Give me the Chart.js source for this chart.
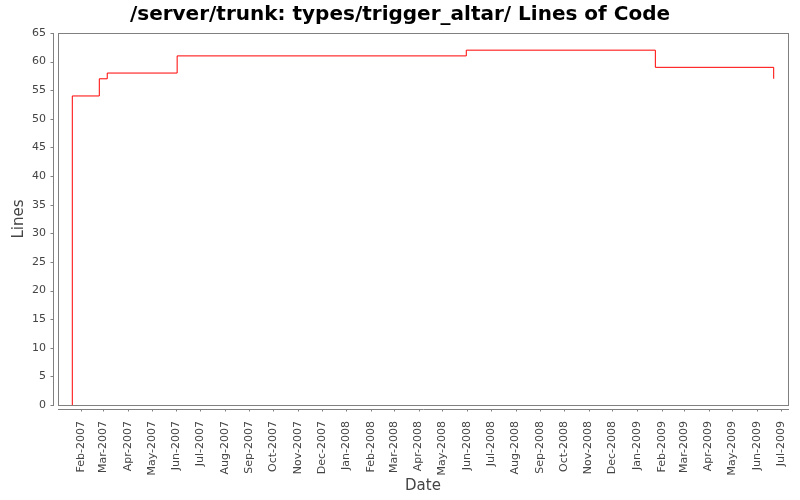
<!DOCTYPE html>
<html>
<head>
<meta charset="utf-8">
<script src="https://cdn.jsdelivr.net/npm/chart.js@4/dist/chart.umd.min.js"></script>
<style>
  html, body { margin: 0; padding: 0; background: #fff; }
  #wrap { width: 800px; height: 500px; }
</style>
</head>
<body>
<div id="wrap"><canvas id="locChart" width="800" height="500"></canvas></div>
<script>
/* data */
const dates = ["2007-01-21", "2007-01-21", "2007-02-24", "2007-03-06", "2007-06-02",
               "2008-05-31", "2009-01-24", "2009-06-22"];
const lines = [0, 54, 57, 58, 61, 62, 59, 57];
const monthLabels = ["Feb-2007", "Mar-2007", "Apr-2007", "May-2007", "Jun-2007", "Jul-2007",
  "Aug-2007", "Sep-2007", "Oct-2007", "Nov-2007", "Dec-2007", "Jan-2008", "Feb-2008",
  "Mar-2008", "Apr-2008", "May-2008", "Jun-2008", "Jul-2008", "Aug-2008", "Sep-2008",
  "Oct-2008", "Nov-2008", "Dec-2008", "Jan-2009", "Feb-2009", "Mar-2009", "Apr-2009",
  "May-2009", "Jun-2009", "Jul-2009"];
const yTicks = [0, 5, 10, 15, 20, 25, 30, 35, 40, 45, 50, 55, 60, 65];

const MONTHS = ["Jan","Feb","Mar","Apr","May","Jun","Jul","Aug","Sep","Oct","Nov","Dec"];
function labelToMs(lbl) {
  const [m, y] = lbl.split("-");
  return Date.UTC(+y, MONTHS.indexOf(m), 1);
}
const monthTicks = monthLabels.map(labelToMs);
const points = dates.map((d, i) => ({ x: Date.parse(d), y: lines[i] }));

const GREY = "#808080";
const TEXT = "#444444";
const FONT = "'DejaVu Sans', sans-serif";

/* JFreeChart-like frame with offset axis lines */
const framePlugin = {
  id: "frame",
  afterDraw(chart) {
    const { ctx, chartArea: a, scales } = chart;
    ctx.save();
    ctx.strokeStyle = GREY;
    ctx.lineWidth = 1;
    ctx.strokeRect(a.left + 0.5, a.top + 0.5, a.right - a.left, a.bottom - a.top);

    // y axis line + ticks
    const ax = Math.round(a.left - 5) + 0.5;
    ctx.beginPath();
    ctx.moveTo(ax, a.top);
    ctx.lineTo(ax, a.bottom + 1);
    scales.y.ticks.forEach(t => {
      const py = Math.round(scales.y.getPixelForValue(t.value)) + 0.5;
      ctx.moveTo(ax - 3, py);
      ctx.lineTo(ax, py);
    });
    // x axis line + ticks
    const ay = Math.round(a.bottom + 4) + 0.5;
    ctx.moveTo(a.left, ay);
    ctx.lineTo(a.right + 1, ay);
    scales.x.ticks.forEach(t => {
      const px = Math.round(scales.x.getPixelForValue(t.value)) + 0.5;
      ctx.moveTo(px, ay);
      ctx.lineTo(px, ay + 2);
    });
    ctx.stroke();
    ctx.restore();
  }
};

new Chart(document.getElementById("locChart"), {
  type: "line",
  data: {
    datasets: [{
      data: points,
      stepped: "before",
      borderColor: "#ff0000",
      borderWidth: 1,
      pointRadius: 0,
      fill: false
    }]
  },
  options: {
    responsive: false,
    animation: false,
    layout: { padding: 0 },
    plugins: {
      legend: { display: false },
      tooltip: { enabled: false },
      title: {
        display: true,
        text: "/server/trunk: types/trigger_altar/ Lines of Code",
        color: "#000",
        font: { family: FONT, size: 20, weight: "bold", lineHeight: 1.2 },
        padding: { top: 3, bottom: 6 }
      }
    },
    scales: {
      x: {
        type: "linear",
        min: Date.UTC(2007, 0, 3),
        max: Date.UTC(2009, 6, 10),
        afterBuildTicks: s => { s.ticks = monthTicks.map(v => ({ value: v })); },
        afterFit: s => { s.height = 95; s.paddingLeft = 0; s.paddingRight = 12; },
        grid: { display: false, drawTicks: false },
        border: { display: false },
        ticks: {
          autoSkip: false,
          minRotation: 90,
          maxRotation: 90,
          padding: 16,
          color: TEXT,
          font: { family: FONT, size: 11 },
          callback: v => monthLabels[monthTicks.indexOf(v)]
        },
        title: {
          display: true,
          text: "Date",
          color: TEXT,
          font: { family: FONT, size: 15 },
          padding: { top: 0, bottom: 5 }
        }
      },
      y: {
        min: 0,
        max: 65,
        afterBuildTicks: s => { s.ticks = yTicks.map(v => ({ value: v })); },
        afterFit: s => { s.width = 58; },
        grid: { display: false, drawTicks: false },
        border: { display: false },
        ticks: {
          padding: 12,
          color: TEXT,
          font: { family: FONT, size: 11 }
        },
        title: {
          display: true,
          text: "Lines",
          color: TEXT,
          font: { family: FONT, size: 15 },
          padding: { top: 10, bottom: 0 }
        }
      }
    }
  },
  plugins: [framePlugin]
});
</script>
</body>
</html>
